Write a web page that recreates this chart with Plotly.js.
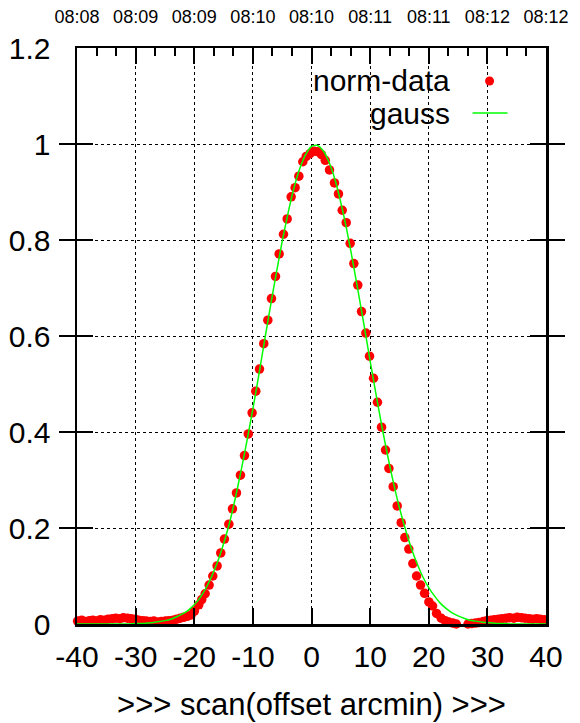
<!DOCTYPE html>
<html>
<head>
<meta charset="utf-8">
<script src="https://cdn.plot.ly/plotly-3.0.1.min.js"></script>
<style>html,body{margin:0;padding:0;background:#fff;}#chart{width:580px;height:723px;}</style>
</head>
<body>
<div id="chart"></div>
<script>
// scan offsets (arcmin) of normalised data points
var dataX = [-39.9, -39.2, -38.6, -37.9, -37.3, -36.6, -36.0, -35.3, -34.7, -34.0, -33.4, -32.7, -32.1, -31.4, -30.8, -30.1, -29.5, -28.8, -28.2, -27.5, -26.9, -26.2, -25.6, -24.9, -24.3, -23.6, -23.0, -22.4, -21.8, -21.2,
  -20.53, -19.97, -19.23, -18.72, -18.14, -17.46, -16.84, -16.10, -15.48, -14.85, -14.10, -13.48, -12.80, -12.12, -11.43, -10.78, -10.13, -9.50,
  -8.87, -8.14, -7.45, -6.83, -6.14, -5.52, -4.78, -4.15, -3.47, -2.79, -2.16, -1.48, -0.90,
  -0.25, 0.40, 1.05, 1.70, 2.35, 3.07,
  3.92, 4.60, 5.24, 5.92, 6.60, 7.22, 7.90, 8.53, 9.27, 9.90, 10.58, 11.25, 11.95, 12.63, 13.20, 13.94, 14.62, 15.30, 15.92, 16.60, 17.29, 17.92, 18.60, 19.28, 20.02, 20.65, 21.33, 22.13,
  22.8, 23.4, 24.1, 24.7, 25.4, 26.0, 26.7, 27.3, 28.0, 28.6, 29.3, 29.9, 30.6, 31.2, 31.9, 32.5, 33.2, 33.8, 34.5, 35.1, 35.8, 36.4, 37.1, 37.7, 38.4, 39.0, 39.7];
var dataY = [0.006, 0.008, 0.005, 0.007, 0.008, 0.006, 0.009, 0.008, 0.010, 0.011, 0.012, 0.011, 0.013, 0.012, 0.011, 0.010, 0.008, 0.007, 0.006, 0.005, 0.006, 0.004, 0.005, 0.006, 0.007, 0.008, 0.010, 0.012, 0.014, 0.016,
  0.019, 0.027, 0.040, 0.051, 0.063, 0.081, 0.100, 0.121, 0.148, 0.177, 0.208, 0.240, 0.273, 0.310, 0.351, 0.396, 0.440, 0.485,
  0.531, 0.584, 0.633, 0.678, 0.724, 0.771, 0.812, 0.844, 0.890, 0.909, 0.933, 0.963, 0.974,
  0.980, 0.985, 0.984, 0.978, 0.966, 0.946,
  0.919, 0.896, 0.862, 0.836, 0.793, 0.751, 0.706, 0.651, 0.606, 0.558, 0.512, 0.462, 0.410, 0.3625, 0.324, 0.286, 0.246, 0.211, 0.180, 0.156, 0.126, 0.100, 0.081, 0.064, 0.046, 0.0375, 0.022, 0.012,
  0.007, 0.004, 0.002, 0.000, -0.002, -0.001, 0.000, 0.001, 0.002, 0.003, 0.005, 0.007, 0.008, 0.009, 0.010, 0.011, 0.012, 0.013, 0.012, 0.014, 0.013, 0.012, 0.011, 0.010, 0.011, 0.010, 0.009];

// fitted gauss curve, read at 1 arcmin steps
var gaussX = [-40, -39, -38, -37, -36, -35, -34, -33, -32, -31, -30, -29, -28, -27, -26, -25, -24, -23, -22, -21, -20, -19, -18, -17, -16, -15, -14, -13, -12, -11, -10, -9, -8, -7, -6, -5, -4, -3, -2, -1,
  0, 1, 2, 3, 4, 5, 6, 7, 8, 9, 10, 11, 12, 13, 14, 15, 16, 17, 18, 19, 20, 21, 22, 23, 24, 25, 26, 27, 28, 29, 30, 31, 32, 33, 34, 35, 36, 37, 38, 39, 40];
var gaussY = [0, 0, 0, 0, 0, 0, 0, 0, 0, 0, 0.001, 0.001, 0.002, 0.003, 0.005, 0.007, 0.010, 0.015, 0.021, 0.029, 0.040, 0.055, 0.075, 0.100, 0.130, 0.167, 0.210, 0.262, 0.320, 0.382, 0.448, 0.518, 0.591, 0.662, 0.731, 0.797, 0.856, 0.908, 0.949, 0.978,
  0.995, 0.997, 0.986, 0.962, 0.926, 0.878, 0.822, 0.758, 0.690, 0.620, 0.548, 0.479, 0.412, 0.350, 0.293, 0.242, 0.198, 0.159, 0.126, 0.098, 0.076, 0.058, 0.043, 0.032, 0.023, 0.017, 0.012, 0.008, 0.006, 0.004, 0.003, 0.002, 0.001, 0.001, 0, 0, 0, 0, 0, 0, 0];

var xTickVals = [-40, -30, -20, -10, 0, 10, 20, 30, 40];
var topTickText = ['08:08', '08:09', '08:09', '08:10', '08:10', '08:11', '08:11', '08:12', '08:12'];
var yTickVals = [0, 0.2, 0.4, 0.6, 0.8, 1, 1.2];
var legendNames = ['norm-data', 'gauss'];
var xTitle = '>>> scan(offset arcmin) >>>';

var FONT = 'Liberation Sans, Arial, sans-serif';

// top axis: time labels at the major ticks plus two short unlabeled ticks between them
var topVals = [], topText = [];
for (var i = 0; i < xTickVals.length; i++) {
  topVals.push(xTickVals[i]); topText.push(topTickText[i]);
  if (i < xTickVals.length - 1) {
    var a = xTickVals[i], b = xTickVals[i + 1];
    topVals.push(a + (b - a) / 3, a + 2 * (b - a) / 3);
    topText.push('', '');
  }
}

var traces = [
  {x: dataX, y: dataY, type: 'scatter', mode: 'markers', name: legendNames[0],
   xaxis: 'x', yaxis: 'y',
   marker: {color: '#ff0000', size: 9.5}, cliponaxis: false, showlegend: false},
  {x: gaussX, y: gaussY, type: 'scatter', mode: 'lines', name: legendNames[1],
   xaxis: 'x2', yaxis: 'y',
   line: {color: '#00ff00', width: 1.5, shape: 'spline', smoothing: 0.6}, showlegend: false}
];

var L = 77, T = 48, W = 469.5, H = 576;
function px(xp){ return (xp - L) / W; }
function py(yp){ return (T + H - yp) / H; }

var layout = {
  width: 580, height: 723,
  margin: {l: L, r: 580 - L - W, t: T, b: 723 - T - H, pad: 0},
  paper_bgcolor: '#fff', plot_bgcolor: '#fff',
  showlegend: false,
  font: {family: FONT, color: '#000', size: 30},
  xaxis: {
    range: [-40, 40], tickvals: xTickVals, ticktext: xTickVals.map(String),
    ticks: 'inside', ticklen: 16, tickwidth: 2, tickcolor: '#000',
    showline: true, linewidth: 2.5, linecolor: '#000', mirror: 'allticks',
    showgrid: true, gridcolor: '#000', griddash: 'dot', gridwidth: 1,
    zeroline: false, tickfont: {size: 30, family: FONT},
    ticklabelstandoff: 4,
    title: {text: xTitle, font: {size: 31, family: FONT}, standoff: 22}
  },
  xaxis2: {
    overlaying: 'x', side: 'top', anchor: 'y', range: [-40, 40],
    tickmode: 'array', tickvals: topVals, ticktext: topText,
    ticks: 'inside', ticklen: 8, tickwidth: 2, tickcolor: '#000',
    showline: true, linewidth: 2.5, linecolor: '#000',
    showgrid: false, zeroline: false,
    tickfont: {size: 18, family: FONT},
    ticklabelstandoff: 15
  },
  yaxis: {
    range: [0, 1.2], tickvals: yTickVals, ticktext: ['0', '0.2', '0.4', '0.6', '0.8', '1', '1.2'],
    ticks: 'inside', ticklen: 16, tickwidth: 2, tickcolor: '#000',
    showline: true, linewidth: 2.5, linecolor: '#000', mirror: 'allticks',
    showgrid: true, gridcolor: '#000', griddash: 'dot', gridwidth: 1,
    zeroline: false, tickfont: {size: 30, family: FONT},
    ticklabelstandoff: 18
  },
  annotations: [
    {xref: 'paper', yref: 'paper', x: px(452), y: py(81), xanchor: 'right', yanchor: 'middle',
     text: legendNames[0], showarrow: false, font: {size: 30, family: FONT, color: '#000'}},
    {xref: 'paper', yref: 'paper', x: px(452), y: py(113), xanchor: 'right', yanchor: 'middle',
     text: legendNames[1], showarrow: false, font: {size: 30, family: FONT, color: '#000'}}
  ],
  shapes: [
    {type: 'circle', xref: 'paper', yref: 'paper', xsizemode: 'pixel', ysizemode: 'pixel',
     xanchor: px(490), yanchor: py(81), x0: -4.5, x1: 4.5, y0: -4.5, y1: 4.5,
     fillcolor: '#ff0000', line: {width: 0}},
    {type: 'line', xref: 'paper', yref: 'paper', x0: px(473), x1: px(508), y0: py(113), y1: py(113),
     line: {color: '#00ff00', width: 1.5}}
  ]
};

Plotly.newPlot('chart', traces, layout, {staticPlot: true, displayModeBar: false});
</script>
</body>
</html>
